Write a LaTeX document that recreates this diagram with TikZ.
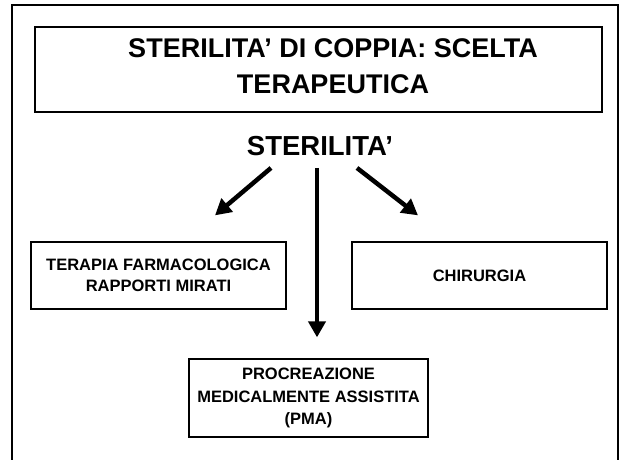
\documentclass[tikz,border=0pt]{standalone}
\usepackage{fontspec}
\setmainfont{Liberation Sans}
\usetikzlibrary{arrows.meta}

\begin{document}
\begin{tikzpicture}[x=1pt,y=-1pt,
	riquadro/.style={draw, line width=1.3pt, align=center, inner sep=0pt, font=\fontsize{16.5}{21}\selectfont\bfseries},
	freccia/.style={line width=4.5pt, -{Triangle[length=16pt,width=17pt]}}]
	\useasboundingbox (0,0) rectangle (620,459);
	\draw[line width=2.7pt] (12,470) -- (12,5) -- (618,5) -- (618,470);
	
	\node[draw, line width=1.6pt, minimum width=567pt, minimum height=85pt] (cornice) at (318.5,69.5) {};
	\node[align=center, font=\fontsize{27}{36}\selectfont\bfseries] (titolo) at (333,66) {STERILITA' DI COPPIA: SCELTA\\TERAPEUTICA};
	\node[inner sep=0pt, font=\fontsize{27.5}{30}\selectfont\bfseries] (sterilita) at (320,146) {STERILITA'};
	
	\node[riquadro, minimum width=255pt, minimum height=67pt] (farmaci) at (158.5,275.5) {TERAPIA FARMACOLOGICA\\RAPPORTI MIRATI};
	\node[riquadro, minimum width=255pt, minimum height=67pt] (chirurgia) at (479.5,275.5) {CHIRURGIA};
	\node[riquadro, font=\fontsize{16.5}{22.5}\selectfont\bfseries, minimum width=239pt, minimum height=78pt] (pma) at (308.5,398) {PROCREAZIONE\\MEDICALMENTE ASSISTITA\\(PMA)};
	
	\draw[freccia] ([xshift=-49pt,yshift=-12pt]sterilita.south) -- ([xshift=56.5pt,yshift=26pt]farmaci.north);
	\draw[freccia] ([xshift=37pt,yshift=-12pt]sterilita.south) -- ([xshift=-61.5pt,yshift=26pt]chirurgia.north);
	\draw[freccia] ([xshift=-3pt,yshift=-12pt]sterilita.south) -- ([xshift=8.5pt,yshift=21pt]pma.north);
\end{tikzpicture}
\end{document}
